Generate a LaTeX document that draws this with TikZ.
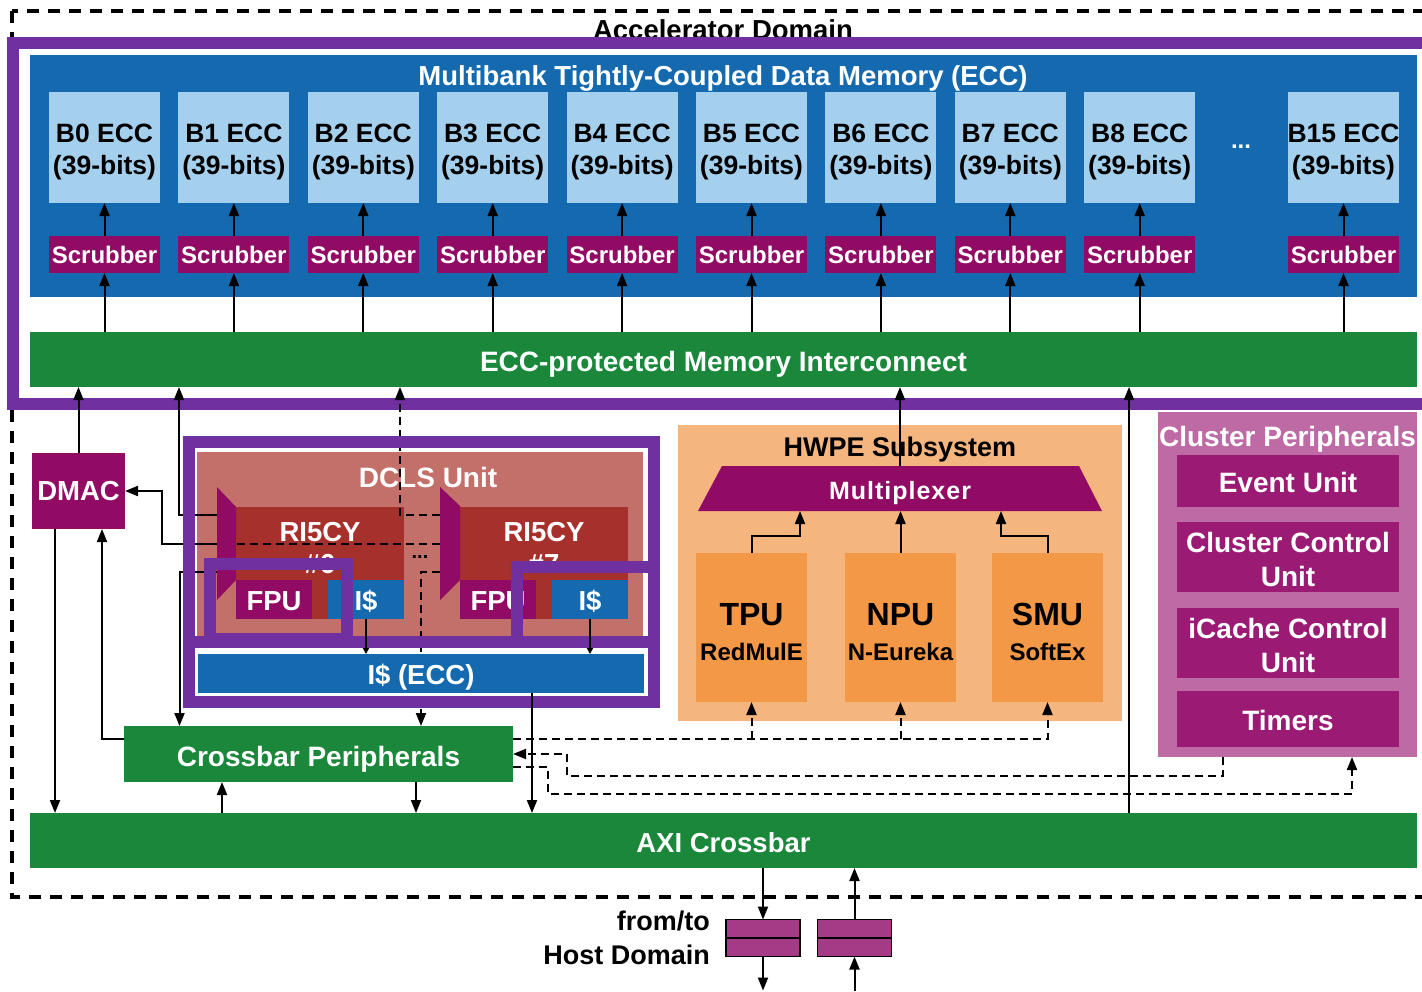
\documentclass[tikz,border=0pt]{standalone}
\usepackage{fontspec}
\setmainfont{Liberation Sans}
\usetikzlibrary{arrows.meta,calc}
\definecolor{pframe}{HTML}{7030A0}
\definecolor{tcdmblue}{HTML}{1469AF}
\definecolor{bankblue}{HTML}{A4D0EE}
\definecolor{scrubmag}{HTML}{910A64}
\definecolor{bargreen}{HTML}{1A873A}
\definecolor{dclsrose}{HTML}{C3706A}
\definecolor{corered}{HTML}{A6302C}
\definecolor{hwpebg}{HTML}{F5B57F}
\definecolor{accorange}{HTML}{F29846}
\definecolor{clpbg}{HTML}{BE6AA5}
\definecolor{clpbox}{HTML}{9B1A73}
\definecolor{fifomag}{HTML}{A53A87}
\newcommand{\myfs}[2]{\fontsize{#1pt}{#2pt}\selectfont}
\begin{document}
\begin{tikzpicture}[x=1pt,y=-1pt,
  blk/.style={inner sep=0pt,outer sep=0pt,align=center,text=white,font=\bfseries\myfs{27.5}{32}},
  lbl/.style={inner sep=0pt,outer sep=0pt,anchor=base,text=white,font=\bfseries\myfs{27.5}{32}},
  bank/.style={blk,fill=bankblue,text=black,font=\bfseries\myfs{26.5}{32},minimum width=111pt,minimum height=111pt,text height=53.6pt,text depth=0pt},
  scrub/.style={blk,fill=scrubmag,font=\bfseries\myfs{24}{28},minimum width=111pt,minimum height=37pt},
  bar/.style={blk,fill=bargreen,font=\bfseries\myfs{28}{32},text height=24pt,text depth=0pt},
  small/.style={blk,minimum width=76pt,minimum height=39pt,text height=22pt,text depth=0pt},
  acc/.style={blk,fill=accorange,minimum width=111pt,minimum height=149pt},
  inbox/.style={blk,fill=clpbox,minimum width=222pt,font=\bfseries\myfs{28}{34},text height=22pt,text depth=0pt},
  inboxii/.style={inbox,text height=59.4pt,text depth=0pt},
  arr/.style={line width=2pt,-{Triangle[length=13pt,width=10pt]}},
  dsh/.style={line width=2pt,dash pattern=on 8pt off 5pt},
  pfr/.style={draw=pframe,line width=12pt},
  fifo/.style={draw=black,line width=1.5pt,fill=fifomag,minimum width=74pt,minimum height=37pt,inner sep=0pt,outer sep=0pt}]
\useasboundingbox (0,0) rectangle (1422,991);
\clip (0,0) rectangle (1422,991);
\fill[white] (0,0) rectangle (1422,991);

% accelerator domain
\draw[line width=3.5pt,dash pattern=on 12pt off 9pt] (12,11) rectangle (1460,897);
\node[lbl,text=black] (acclbl) at (723,39) {Accelerator Domain};

% TCDM
\node[blk,fill=tcdmblue,minimum width=1387pt,minimum height=242pt] (tcdm) at (723.5,176) {};
\node[lbl] (tcdmlbl) at (723,85) {Multibank Tightly-Coupled Data Memory (ECC)};
\foreach \i in {0,...,8}{
  \pgfmathsetmacro{\cx}{104.5+129.4*\i}
  \node[bank] (b\i) at (\cx,147.5) {B\i{} ECC\\(39-bits)};
  \node[scrub] (s\i) at (\cx,254.5) {Scrubber};
}
\node[bank] (b15) at (1343.5,147.5) {B15 ECC\\(39-bits)};
\node[scrub] (s15) at (1343.5,254.5) {Scrubber};
\node[blk,font=\bfseries\myfs{24}{28}] (bdots) at (1241,147) {...};
\node[bar,minimum width=1387pt,minimum height=55pt] (ic) at (723.5,359.5) {ECC-protected Memory Interconnect};
\draw[pfr] (13,43) rectangle (1460,404);
\foreach \i in {0,...,8,15}{
  \draw[arr] (s\i) -- (b\i);
  \draw[arr] (ic.north -| s\i) -- (s\i);
}

% DMAC
\node[blk,fill=scrubmag,minimum width=93pt,minimum height=76pt] (dmac) at (78.5,491) {DMAC};

% DCLS unit
\node[blk,fill=dclsrose,minimum width=446pt,minimum height=184pt] (dcls) at (420,544) {};
\node[lbl,font=\bfseries\myfs{28}{32}] (dclslbl) at (428,487) {DCLS Unit};
\node[blk,fill=corered,minimum width=168pt,minimum height=112pt] (core6) at (320,563) {};
\node[lbl] (c6l) at (320,541) {RI5CY};
\node[lbl] (c6n) at (320,573) {\#6};
\node[small,fill=scrubmag] (fpu6) at (274,599.5) {FPU};
\node[small,fill=tcdmblue] (ic6) at (366,599.5) {I\$};
\fill[scrubmag] (217,487) -- (236,507) -- (236,580) -- (217,600) -- cycle;
\node[blk,fill=corered,minimum width=168pt,minimum height=112pt] (core7) at (544,563) {};
\node[lbl] (c7l) at (544,541) {RI5CY};
\node[lbl] (c7n) at (544,573) {\#7};
\node[small,fill=scrubmag] (fpu7) at (498,599.5) {FPU};
\node[small,fill=tcdmblue] (ic7) at (590,599.5) {I\$};
\fill[scrubmag] (440,487) -- (460,506) -- (460,580) -- (440,600) -- cycle;
\coordinate (m6a) at (217,515);
\coordinate (m6b) at (217,544);
\coordinate (m6c) at (217,572);
\coordinate (m6bR) at (236,544);
\coordinate (m7a) at (440,515);
\coordinate (m7b) at (440,544);
\coordinate (m7c) at (440,572);
\node[inner sep=0pt,font=\bfseries\myfs{20}{24}] (cdots) at (420,557) {...};

% crossbar peripherals and AXI
\node[bar,minimum width=389pt,minimum height=56pt] (cp) at (318.5,754) {Crossbar Peripherals};
\node[bar,minimum width=1387pt,minimum height=55pt,font=\bfseries\myfs{27.5}{32}] (axi) at (723.5,840.5) {AXI Crossbar};

% DCLS connectors
\coordinate (icA) at ([xshift=149pt]ic.south west);
\draw[arr] (m6a) -| (icA);
\draw[arr] (m6b) -- ++(-55,0) |- (dmac.east);
\coordinate (cpA) at ([xshift=55.5pt]cp.north west);
\draw[arr] (m6c) -| (cpA);
\draw[dsh] (m7b) -- (m6bR);
\coordinate (icB) at ([xshift=370pt]ic.south west);
\draw[dsh,arr] (m7a) -| (icB);
\coordinate (cpB) at ([xshift=297pt]cp.north west);
\draw[dsh,arr] (m7c) -| (cpB);

% I$ ECC and frames
\node[blk,fill=tcdmblue,minimum width=446pt,minimum height=39pt,text height=22.4pt,text depth=0pt] (icecc) at (421,673.5) {I\$ (ECC)};
\draw[pfr] (189,442) rectangle (654,702);
\draw[pfr] (189,642) -- (654,642);
\draw[pfr] (210,564) rectangle (347,639);
\draw[pfr] (517,567) rectangle (654,642);
\draw[line width=1.5pt,-{Triangle[length=6pt,width=6pt]}] (ic6.south) -- (ic6.south |- icecc.north);
\draw[line width=1.5pt,-{Triangle[length=6pt,width=6pt]}] (ic7.south) -- (ic7.south |- icecc.north);

% HWPE
\node[blk,fill=hwpebg,minimum width=444pt,minimum height=296pt] (hwpe) at (900,573) {};
\node[lbl,text=black,font=\bfseries\myfs{27}{30}] (hwpelbl) at (900,456) {HWPE Subsystem};
\fill[scrubmag] (722,466) -- (1079,466) -- (1102,511) -- (698,511) -- cycle;
\node[lbl,font=\bfseries\myfs{25}{30}\addfontfeatures{LetterSpace=4}] (mxl) at (900,499) {Multiplexer};
\coordinate (mxt) at (900,466);
\coordinate (mxb) at (900,511);
\node[acc] (tpu) at (751.5,627.5) {};
\node[acc] (npu) at (900.5,627.5) {};
\node[acc] (smu) at (1047.5,627.5) {};
\node[lbl,text=black,font=\bfseries\myfs{32}{36}] (tpul) at (751.5,625) {TPU};
\node[lbl,text=black,font=\bfseries\myfs{32}{36}] (npul) at (900.5,625) {NPU};
\node[lbl,text=black,font=\bfseries\myfs{32}{36}] (smul) at (1047.5,625) {SMU};
\node[lbl,text=black,font=\bfseries\myfs{24}{28}] (tpus) at (751.5,660) {RedMulE};
\node[lbl,text=black,font=\bfseries\myfs{24}{28}] (npus) at (900.5,660) {N-Eureka};
\node[lbl,text=black,font=\bfseries\myfs{24}{28}] (smus) at (1047.5,660) {SoftEx};
\draw[arr] (mxt) -- (mxt |- ic.south);
\draw[arr] (tpu.north) -- ++(0,-17) -| ([xshift=-100pt]mxb);
\draw[arr] (npu.north) -- (npu.north |- mxb);
\draw[arr] (smu.north) -- ++(0,-17) -| ([xshift=101pt]mxb);

% cluster peripherals
\node[blk,fill=clpbg,minimum width=259pt,minimum height=345pt] (clp) at (1287.5,584.5) {};
\node[lbl,font=\bfseries\myfs{28}{32}] (clplbl) at (1287.5,446) {Cluster Peripherals};
\node[inbox,minimum height=52pt] (evu) at (1288,481) {Event Unit};
\node[inboxii,minimum height=70pt] (ccu) at (1288,557) {Cluster Control\\Unit};
\node[inboxii,minimum height=70pt] (icu) at (1288,643) {iCache Control\\Unit};
\node[inbox,minimum height=56pt,text height=23.4pt] (tim) at (1288,719) {Timers};

% FIFOs
\node[fifo] (ff1) at (763,938) {};
\draw[line width=1.5pt] (ff1.west) -- (ff1.east);
\node[fifo] (ff2) at (854.5,938) {};
\draw[line width=1.5pt] (ff2.west) -- (ff2.east);
\node[inner sep=0pt,anchor=east,align=right,font=\bfseries\myfs{27}{34}] (host) at (710,938) {from/to\\Host Domain};

% remaining connectors
\draw[arr] (dmac.north) -- (dmac.north |- ic.south);
\coordinate (dmacL) at ([xshift=-23.5pt]dmac.south);
\coordinate (dmacR) at ([xshift=23.5pt]dmac.south);
\draw[arr] (dmacL) -- (dmacL |- axi.north);
\coordinate (cpW) at ([yshift=15pt]cp.west);
\draw[arr] (cpW) -| (dmacR);
\coordinate (eccB) at ([xshift=111pt]icecc.south);
\draw[arr] (eccB) -- (eccB |- axi.north);
\coordinate (cpS1) at ([xshift=98pt]cp.south west);
\coordinate (cpS2) at ([xshift=292pt]cp.south west);
\draw[arr] (cpS1 |- axi.north) -- (cpS1);
\draw[arr] (cpS2) -- (cpS2 |- axi.north);
\coordinate (axU) at ([xshift=1099pt]axi.north west);
\draw[arr] (axU) -- (axU |- ic.south);
\coordinate (cpE1) at ([yshift=15pt]cp.east);
\draw[dsh,arr] (cpE1) -| (smu.south);
\draw[dsh,arr] (cpE1 -| tpu.south) -- (tpu.south);
\draw[dsh,arr] (cpE1 -| npu.south) -- (npu.south);
\coordinate (clpA) at ([xshift=65pt]clp.south west);
\draw[dsh,arr] (clpA) -- ++(0,19) -| ([xshift=54pt]cp.east) -- (cp.east);
\coordinate (cpE3) at ([yshift=-13pt]cp.east);
\draw[dsh,arr] (cpE3) -- ++(35,0) -- ++(0,27) -| ([xshift=194pt]clp.south west);
\draw[arr] (ff1.north |- axi.south) -- (ff1.north);
\coordinate (out1) at ([yshift=-34pt]ff1.south);
\draw[arr] (ff1.south) -- (out1);
\draw[arr] (ff2.north) -- (ff2.north |- axi.south);
\coordinate (in2) at ([yshift=-34pt]ff2.south);
\draw[arr] (in2) -- (ff2.south);
\end{tikzpicture}
\end{document}
